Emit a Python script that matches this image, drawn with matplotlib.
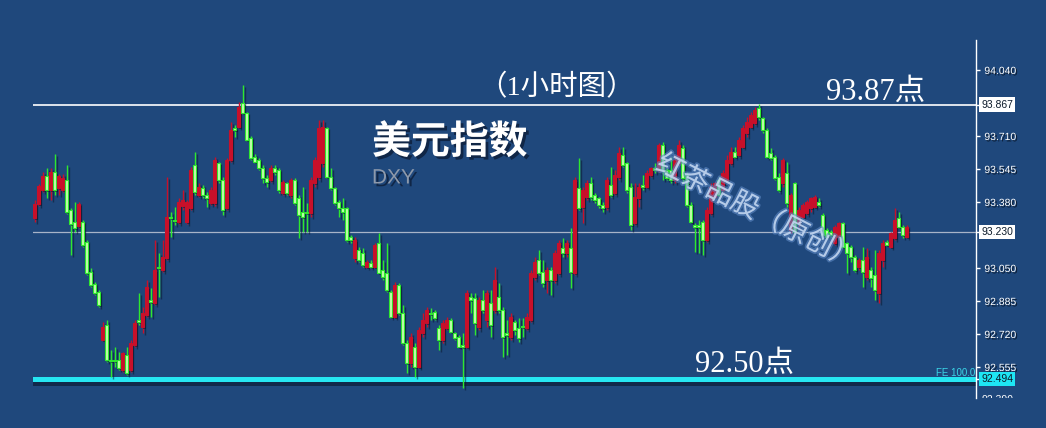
import matplotlib
matplotlib.use('Agg')
import matplotlib.pyplot as plt
import matplotlib.patheffects as pe
from matplotlib.transforms import Bbox, TransformedBbox, blended_transform_factory

# DXY 1h candles (price units)
opens = [93.30, 93.37, 93.44, 93.51, 93.44, 93.53, 93.45, 93.44, 93.49, 93.34,
         93.28, 93.26, 93.28, 93.18, 93.03, 92.97, 92.93, 92.69, 92.765, 92.59,
         92.59, 92.59, 92.54, 92.615, 92.54, 92.665, 92.79, 92.757, 92.815, 92.89,
         92.873, 93.057, 93.04, 93.10, 93.307, 93.29, 93.28, 93.36, 93.28, 93.35,
         93.565, 93.415, 93.45, 93.415, 93.373, 93.373, 93.573, 93.49, 93.348, 93.59,
         93.75, 93.757, 93.873, 93.823, 93.70, 93.607, 93.59, 93.548, 93.498, 93.49,
         93.548, 93.54, 93.423, 93.473, 93.415, 93.49, 93.398, 93.332, 93.332, 93.323,
         93.473, 93.507, 93.573, 93.748, 93.507, 93.448, 93.382, 93.348, 93.348, 93.207,
         93.098, 93.14, 93.123, 93.057, 93.073, 93.057, 93.173, 93.04, 93.023, 92.932,
         92.807, 92.965, 92.823, 92.673, 92.573, 92.657, 92.557, 92.723, 92.773, 92.825,
         92.832, 92.748, 92.69, 92.748, 92.79, 92.723, 92.707, 92.665, 92.657, 92.907,
         92.898, 92.757, 92.89, 92.79, 92.873, 92.84, 92.907, 92.84, 92.723, 92.707,
         92.782, 92.748, 92.76, 92.748, 92.79, 93.007, 93.09, 93.032, 92.99, 93.04,
         92.99, 93.023, 93.148, 93.123, 93.148, 93.023, 93.448, 93.357, 93.407, 93.473,
         93.415, 93.398, 93.365, 93.357, 93.465, 93.423, 93.507, 93.615, 93.573, 93.457,
         93.273, 93.398, 93.465, 93.457, 93.515, 93.548, 93.54, 93.665, 93.54, 93.54,
         93.49, 93.573, 93.648, 93.515, 93.365, 93.265, 93.265, 93.282, 93.19, 93.323,
         93.407, 93.49, 93.44, 93.49, 93.573, 93.632, 93.615, 93.657, 93.723, 93.757,
         93.773, 93.848, 93.798, 93.74, 93.623, 93.607, 93.507, 93.473, 93.523, 93.24,
         93.473, 93.273, 93.307, 93.323, 93.348, 93.357, 93.382, 93.315, 93.24, 93.232,
         93.173, 93.207, 93.273, 93.173, 93.157, 93.107, 93.057, 93.09, 93.007, 93.04,
         93.015, 92.923, 93.09, 93.182, 93.157, 93.198, 93.298, 93.257, 93.207]
highs = [93.39, 93.47, 93.53, 93.55, 93.55, 93.62, 93.52, 93.52, 93.565, 93.35,
         93.38, 93.38, 93.29, 93.19, 93.05, 92.98, 92.94, 92.78, 92.79, 92.64,
         92.657, 92.632, 92.632, 92.657, 92.69, 92.79, 92.923, 92.857, 92.99, 92.948,
         93.19, 93.123, 93.19, 93.507, 93.332, 93.357, 93.40, 93.44, 93.39, 93.557,
         93.632, 93.475, 93.465, 93.432, 93.457, 93.607, 93.582, 93.507, 93.60, 93.782,
         93.765, 93.882, 93.965, 93.83, 93.71, 93.62, 93.60, 93.565, 93.515, 93.565,
         93.565, 93.548, 93.49, 93.482, 93.498, 93.498, 93.415, 93.457, 93.373, 93.507,
         93.607, 93.79, 93.79, 93.757, 93.548, 93.457, 93.39, 93.398, 93.357, 93.215,
         93.207, 93.157, 93.148, 93.09, 93.09, 93.173, 93.223, 93.09, 93.173, 92.94,
         92.982, 92.973, 92.865, 92.69, 92.723, 92.673, 92.757, 92.823, 92.857, 92.848,
         92.84, 92.765, 92.79, 92.807, 92.798, 92.732, 92.715, 92.723, 92.94, 92.923,
         92.923, 92.907, 92.94, 92.94, 92.94, 93.057, 92.973, 92.857, 92.79, 92.823,
         92.79, 92.798, 92.798, 92.823, 93.04, 93.107, 93.14, 93.09, 93.057, 93.057,
         93.14, 93.19, 93.198, 93.19, 93.248, 93.507, 93.598, 93.457, 93.49, 93.507,
         93.423, 93.407, 93.382, 93.507, 93.557, 93.54, 93.657, 93.657, 93.582, 93.473,
         93.473, 93.473, 93.515, 93.54, 93.557, 93.573, 93.673, 93.682, 93.55, 93.607,
         93.615, 93.69, 93.665, 93.532, 93.382, 93.273, 93.29, 93.29, 93.357, 93.473,
         93.482, 93.507, 93.54, 93.615, 93.657, 93.657, 93.707, 93.765, 93.807, 93.832,
         93.857, 93.868, 93.807, 93.748, 93.648, 93.615, 93.523, 93.598, 93.582, 93.423,
         93.482, 93.357, 93.373, 93.39, 93.407, 93.415, 93.398, 93.323, 93.248, 93.24,
         93.265, 93.282, 93.282, 93.182, 93.165, 93.115, 93.098, 93.157, 93.148, 93.057,
         93.14, 93.14, 93.19, 93.19, 93.232, 93.348, 93.332, 93.265, 93.265]
lows = [93.28, 93.36, 93.43, 93.40, 93.39, 93.415, 93.415, 93.43, 93.32, 93.115,
        93.23, 93.25, 93.157, 93.015, 92.955, 92.915, 92.855, 92.685, 92.58, 92.507,
        92.557, 92.54, 92.532, 92.515, 92.532, 92.657, 92.765, 92.723, 92.807, 92.807,
        92.865, 92.907, 93.032, 93.09, 93.207, 93.265, 93.27, 93.34, 93.27, 93.34,
        93.415, 93.405, 93.40, 93.357, 93.365, 93.36, 93.473, 93.315, 93.34, 93.582,
        93.707, 93.748, 93.82, 93.685, 93.59, 93.575, 93.54, 93.473, 93.457, 93.482,
        93.515, 93.423, 93.415, 93.415, 93.398, 93.365, 93.198, 93.232, 93.232, 93.307,
        93.457, 93.49, 93.557, 93.498, 93.44, 93.365, 93.307, 93.29, 93.182, 93.173,
        93.082, 93.082, 93.057, 93.048, 93.048, 93.048, 93.023, 92.99, 92.932, 92.798,
        92.798, 92.815, 92.665, 92.523, 92.557, 92.507, 92.548, 92.707, 92.757, 92.79,
        92.79, 92.64, 92.673, 92.74, 92.723, 92.69, 92.657, 92.45, 92.648, 92.823,
        92.715, 92.74, 92.823, 92.757, 92.707, 92.823, 92.823, 92.607, 92.615, 92.69,
        92.715, 92.682, 92.707, 92.74, 92.782, 92.99, 93.015, 92.957, 92.923, 92.915,
        92.973, 93.015, 93.107, 93.107, 92.948, 93.015, 93.34, 93.273, 93.39, 93.39,
        93.373, 93.348, 93.332, 93.34, 93.407, 93.415, 93.49, 93.557, 93.423, 93.24,
        93.265, 93.357, 93.44, 93.448, 93.507, 93.523, 93.532, 93.49, 93.49, 93.473,
        93.473, 93.565, 93.473, 93.357, 93.273, 93.132, 93.123, 93.115, 93.182, 93.315,
        93.398, 93.407, 93.432, 93.482, 93.565, 93.598, 93.607, 93.648, 93.707, 93.748,
        93.765, 93.79, 93.723, 93.598, 93.59, 93.49, 93.432, 93.457, 93.357, 93.223,
        93.223, 93.257, 93.298, 93.315, 93.332, 93.348, 93.357, 93.207, 93.198, 93.207,
        93.165, 93.19, 93.148, 93.023, 93.082, 93.032, 93.04, 92.957, 92.99, 92.957,
        92.89, 92.873, 93.057, 93.165, 93.148, 93.19, 93.248, 93.198, 93.198]
closes = [93.37, 93.46, 93.51, 93.44, 93.53, 93.44, 93.51, 93.50, 93.33, 93.27,
          93.25, 93.37, 93.165, 93.025, 92.965, 92.925, 92.865, 92.755, 92.59, 92.585,
          92.585, 92.548, 92.623, 92.523, 92.673, 92.773, 92.782, 92.823, 92.957, 92.882,
          93.04, 93.048, 93.107, 93.307, 93.298, 93.285, 93.38, 93.39, 93.38, 93.54,
          93.432, 93.457, 93.415, 93.398, 93.44, 93.59, 93.49, 93.34, 93.59, 93.74,
          93.74, 93.857, 93.823, 93.69, 93.60, 93.582, 93.548, 93.498, 93.482, 93.548,
          93.532, 93.44, 93.482, 93.423, 93.49, 93.373, 93.315, 93.307, 93.323, 93.49,
          93.59, 93.748, 93.757, 93.507, 93.448, 93.373, 93.348, 93.332, 93.19, 93.19,
          93.19, 93.09, 93.065, 93.082, 93.057, 93.165, 93.023, 93.007, 92.94, 92.807,
          92.965, 92.823, 92.673, 92.573, 92.707, 92.557, 92.74, 92.79, 92.84, 92.818,
          92.798, 92.69, 92.773, 92.79, 92.732, 92.698, 92.657, 92.657, 92.923, 92.89,
          92.773, 92.89, 92.84, 92.923, 92.765, 92.99, 92.84, 92.707, 92.715, 92.807,
          92.74, 92.698, 92.757, 92.807, 93.023, 93.082, 93.023, 92.973, 93.04, 92.99,
          93.123, 93.173, 93.123, 93.173, 93.032, 93.49, 93.348, 93.44, 93.473, 93.407,
          93.39, 93.365, 93.348, 93.49, 93.415, 93.515, 93.623, 93.565, 93.44, 93.265,
          93.407, 93.457, 93.457, 93.523, 93.548, 93.54, 93.665, 93.54, 93.50, 93.49,
          93.59, 93.665, 93.498, 93.365, 93.282, 93.257, 93.257, 93.19, 93.34, 93.457,
          93.473, 93.415, 93.523, 93.59, 93.632, 93.607, 93.69, 93.748, 93.782, 93.815,
          93.84, 93.807, 93.74, 93.607, 93.598, 93.498, 93.44, 93.59, 93.373, 93.415,
          93.232, 93.34, 93.365, 93.382, 93.398, 93.407, 93.365, 93.215, 93.207, 93.215,
          93.257, 93.273, 93.157, 93.123, 93.107, 93.04, 93.09, 93.032, 93.107, 92.998,
          92.94, 93.123, 93.173, 93.165, 93.223, 93.29, 93.257, 93.215, 93.257]

tick_vals = [94.040, 93.710, 93.545, 93.380, 93.050, 92.885, 92.720, 92.555]
resistance = 93.867
middle = 93.230
support = 92.494
cut_tick = 92.390

BG = '#1f487c'
RED = '#c8102a'
GREEN_EDGE = '#2ee82e'
GREEN_FACE = '#c4ffac'

W, H = 1046, 428
fig = plt.figure(figsize=(W / 100, H / 100), dpi=100, facecolor=BG)
ax = fig.add_axes([33 / W, 1 - 398 / H, 943 / W, 358 / H])
ax.set_facecolor(BG)


def fx(x):
  return x / W


def fy(y):
  return 1 - y / H


shadow_txt = [pe.withSimplePatchShadow(offset=(2, -2), shadow_rgbFace='#0a1830', alpha=0.7)]

# guide lines
ax.axhline(resistance, color='white', lw=1.2, zorder=1)
ax.axhline(middle, color='#a8b4c8', lw=0.9, zorder=1)
ax.axhline(support, color='#26e6f2', lw=3.6, zorder=1,
           path_effects=[pe.SimpleLineShadow(offset=(1, -2.5), shadow_color='#08152a', alpha=0.6), pe.Normal()])

# candles
xs = list(range(len(opens)))
wick_cols = []
body_bottoms = []
body_heights = []
face_cols = []
edge_cols = []
for i in xs:
  o, c = opens[i], closes[i]
  up = c >= o
  wick_cols.append(RED if up else GREEN_EDGE)
  face_cols.append(RED if up else GREEN_FACE)
  edge_cols.append(RED if up else GREEN_EDGE)
  body_bottoms.append(min(o, c))
  body_heights.append(max(abs(c - o), 0.005))

ax.vlines(xs, lows, highs, colors=wick_cols, lw=1, zorder=2,
          path_effects=[pe.SimpleLineShadow(offset=(1.5, -1.5), shadow_color='#08152a', alpha=0.5), pe.Normal()])
bars = ax.bar(xs, body_heights, bottom=body_bottoms, width=0.68, color=face_cols,
              edgecolor=edge_cols, linewidth=0.8, zorder=3)
for b in bars:
  b.set_path_effects([pe.SimplePatchShadow(offset=(1.5, -1.5), shadow_rgbFace='#08152a', alpha=0.5), pe.Normal()])

ax.set_xlim(-0.425, 235.325)
ax.set_ylim(92.40, 94.19)

# right price axis
for s in ['left', 'top', 'bottom']:
  ax.spines[s].set_visible(False)
ax.spines['right'].set_color('white')
ax.spines['right'].set_linewidth(1)
ax.set_xticks([])
ax.yaxis.tick_right()
ax.set_yticks(tick_vals + [resistance, middle, support])
ax.set_yticklabels(['%.3f' % v for v in tick_vals] + ['', '', ''])
ax.tick_params(axis='y', colors='white', length=3, width=1, pad=3, labelsize=7.5)
for lab in ax.get_yticklabels():
  lab.set_fontfamily('Liberation Sans')
  lab.set_path_effects([pe.withSimplePatchShadow(offset=(1, -1), shadow_rgbFace='#05101f', alpha=0.8)])

tr = blended_transform_factory(ax.transAxes, ax.transData)
for v, fc in [(resistance, 'white'), (middle, 'white'), (support, '#1ee6f4')]:
  ax.text(1 + 5 / 943, v, '%.3f' % v, transform=tr, ha='left', va='center', fontsize=7.5,
          family='Liberation Sans', color='#0c1a2a', clip_on=False,
          bbox=dict(boxstyle='square,pad=0.22', fc=fc, ec='none'))

t = ax.text(1 + 6 / 943, cut_tick, '%.3f' % cut_tick, transform=tr, ha='left', va='center',
            fontsize=7.5, family='Liberation Sans', color='white')
t.set_clip_box(TransformedBbox(Bbox([[0.9, fy(398)], [1.0, 1.0]]), fig.transFigure))
t.set_clip_on(True)

fig.text(fx(975), fy(373), 'FE 100.0', ha='right', va='center', fontsize=7,
         family='Liberation Sans', color='#3ad6e8')

# annotations
serif_cjk = ['Liberation Serif', 'Noto Sans CJK SC']
fig.text(fx(557), fy(88), '（1小时图）', ha='center', va='center', fontsize=20.5,
         family=serif_cjk, color='white')
fig.text(fx(876), fy(92), '93.87点', ha='center', va='center', fontsize=22,
         family=serif_cjk, color='white')
fig.text(fx(745), fy(364), '92.50点', ha='center', va='center', fontsize=22,
         family=serif_cjk, color='white')

fig.text(fx(372), fy(142), '美元指数', ha='left', va='center', fontsize=28, weight='bold',
         family=['Noto Sans CJK SC', 'DejaVu Sans'], color='white', path_effects=shadow_txt)
fig.text(fx(372), fy(178), 'DXY', ha='left', va='center', fontsize=15,
         family='Liberation Sans', color='#8d99ab', path_effects=shadow_txt)

# watermark
fig.text(fx(757), fy(212), '红茶品股（原创）', ha='center', va='center', fontsize=20,
         rotation=-27, rotation_mode='anchor', family=['Noto Sans CJK SC', 'DejaVu Sans'],
         color='#d4e4f8', alpha=0.7,
         path_effects=[pe.withStroke(linewidth=2.5, foreground='#5d88c4', alpha=0.6)])

fig.savefig('out.png', dpi=100, facecolor=BG)
